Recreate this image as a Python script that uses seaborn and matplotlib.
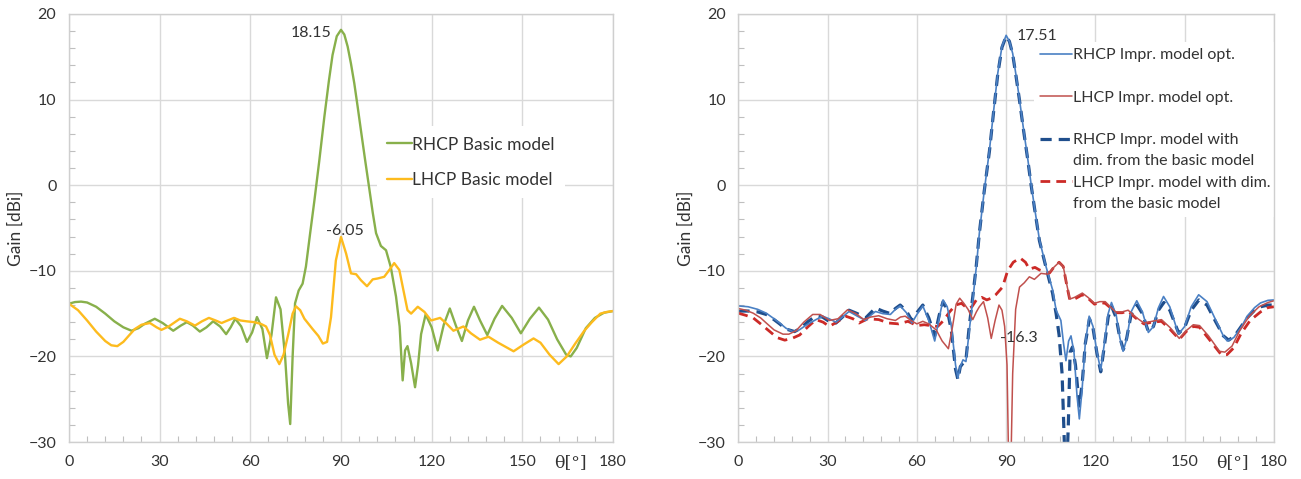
import matplotlib
matplotlib.use('Agg')
import matplotlib.pyplot as plt
from matplotlib.ticker import MultipleLocator
from matplotlib.lines import Line2D
import seaborn as sns

sns.set_theme(style='white')
plt.rcParams['font.family'] = ['Lato', 'DejaVu Sans']

# ---- left panel: basic model ----
rhcp_basic_theta = [0, 2, 4, 6, 9, 12, 15, 18, 20.7, 23, 25, 28.4, 31, 34.5, 37, 39, 41, 43.3, 45.5, 47.7,
                    50, 52, 53.5, 55, 57, 58.9, 60.6, 62.2, 64, 65.5, 67, 68.5, 70, 71.5, 72.5, 73.2, 74.0,
                    74.8, 76, 77.3, 78.4, 79.8, 81.2, 82.8, 84.5, 86, 87.2, 88.6, 90, 91.1, 92.2, 93.3, 94.4,
                    95.5, 96.6, 98, 99.4, 100.5, 101.6, 103.2, 104.9, 106.5, 108.2, 109.4, 110.4, 111.2, 112,
                    113.2, 114.5, 115.5, 116.5, 118, 120, 122, 124, 126, 128, 130, 132, 134, 136, 138.4, 140.8,
                    143.3, 146.5, 149.5, 152.5, 155.5, 158.5, 161.5, 164.5, 166, 168, 171, 174, 177, 180]
rhcp_basic_gain = [-13.84, -13.65, -13.6, -13.7, -14.2, -15.0, -15.9, -16.6, -17.0, -16.7, -16.2, -15.6, -16.1,
                   -17.0, -16.4, -16.0, -16.4, -17.1, -16.6, -15.9, -16.5, -17.4, -16.6, -15.6, -16.5, -18.3,
                   -17.2, -15.4, -16.8, -20.2, -17.5, -13.1, -14.5, -20.0, -25.5, -27.9, -20.0, -13.8, -12.3,
                   -11.5, -9.5, -5.6, -1.8, 2.8, 8.0, 12.2, 15.2, 17.4, 18.15, 17.6, 16.2, 14.2, 11.9, 9.2, 6.4,
                   2.9, -0.5, -3.2, -5.6, -7.1, -7.6, -9.6, -13.0, -16.5, -22.8, -19.3, -18.8, -20.8, -23.6,
                   -21.0, -17.4, -15.1, -16.6, -19.3, -16.3, -14.4, -16.4, -18.2, -15.8, -14.2, -15.8, -17.5,
                   -15.6, -14.1, -15.5, -17.3, -15.6, -14.3, -15.7, -18.0, -19.8, -20.0, -19.0, -16.7, -15.5,
                   -14.9, -14.7]

lhcp_basic_theta = [0, 3, 6, 9, 12, 14, 16, 18, 20, 21.8, 24, 26.8, 29, 30.6, 33, 36.7, 39, 41.7, 44, 46.3,
                    48.5, 50.5, 52.5, 54.6, 56.7, 58.8, 61.3, 63.5, 65.2, 66.5, 68, 69.6, 71, 72.5, 74, 75.1,
                    76.5, 77.9, 80.6, 82.5, 84, 85.4, 86.7, 88.3, 90, 91.7, 93.3, 95, 96.6, 98.6, 100.5, 102.1,
                    104.3, 106, 107.6, 109.3, 110.5, 112, 113.2, 115.4, 117.6, 119.8, 122.8, 125, 127.2, 130.5,
                    133, 136, 138.8, 142, 147.1, 150.5, 153.7, 156, 159, 162, 164.7, 167.5, 170.5, 173, 175.8,
                    178, 180]
lhcp_basic_gain = [-13.84, -14.6, -15.8, -17.1, -18.2, -18.7, -18.8, -18.3, -17.5, -16.8, -16.3, -16.1, -16.6,
                   -16.9, -16.5, -15.6, -15.9, -16.4, -15.9, -15.5, -15.8, -16.1, -15.8, -15.5, -15.8, -15.9,
                   -16.0, -16.2, -16.5, -17.5, -19.8, -20.9, -19.8, -17.5, -15.0, -14.15, -14.6, -15.6, -16.8,
                   -17.6, -18.5, -18.3, -15.4, -8.8, -6.05, -8.0, -10.3, -10.4, -11.1, -11.8, -11.0, -10.9,
                   -10.7, -9.9, -9.1, -9.9, -12.0, -14.6, -15.0, -14.2, -14.8, -15.8, -15.5, -16.2, -17.0,
                   -16.5, -17.3, -18.05, -17.7, -18.4, -19.4, -18.6, -17.9, -18.4, -19.8, -20.9, -20.0, -18.5,
                   -17.0, -16.0, -15.0, -14.8, -14.7]

# ---- right panel: improved model ----
rhcp_opt_theta = [0, 3.3, 6.5, 9.4, 12, 13.9, 16, 18.3, 20.5, 23, 26.1, 28.3, 30.5, 32.8, 35, 37.2, 40, 42.8,
                  44.5, 46.1, 48.5, 51.1, 52.8, 54.4, 56.5, 58.3, 60.2, 62, 64, 66, 67.5, 68.8, 70.2, 71.6, 73,
                  73.8, 74.6, 75.5, 76.5, 77.6, 78.8, 80, 81, 82.6, 84.4, 85.8, 87.2, 88.6, 90, 91.1, 92.2, 93.3,
                  94.5, 95.9, 97.3, 98.4, 99.5, 101.2, 103.4, 105.6, 106.8, 107.6, 108.4, 109.3, 110.1, 111,
                  111.8, 112.8, 113.8, 114.6, 115.5, 116.6, 117.9, 119.2, 120.5, 121.8, 123, 124.3, 125.4, 127,
                  128.2, 129.3, 130.5, 132, 133.9, 135.8, 137.8, 139.5, 141.2, 142.9, 145, 147.9, 150, 152.2,
                  154.7, 157.5, 160.5, 163, 164.3, 166.5, 169, 171, 173.5, 175.5, 178, 180]
rhcp_opt_gain = [-14.1, -14.2, -14.5, -14.95, -15.6, -16.1, -16.7, -17.1, -16.9, -16.3, -15.7, -15.3, -15.6,
                 -16.0, -15.4, -14.75, -15.3, -15.8, -15.2, -14.75, -15.0, -15.1, -14.5, -14.1, -14.9, -16.1,
                 -15.0, -14.1, -15.8, -18.2, -15.5, -13.4, -14.2, -16.5, -21.0, -22.5, -21.2, -20.4, -20.6,
                 -17.0, -13.4, -9.5, -5.6, -0.8, 4.1, 8.7, 13.1, 16.2, 17.51, 16.8, 15.4, 12.9, 10.0, 6.4, 3.0,
                 0.1, -2.5, -6.4, -9.5, -12.2, -14.6, -15.2, -15.8, -18.5, -20.5, -18.2, -17.6, -19.5, -24.5,
                 -27.3, -24.0, -18.5, -15.3, -16.5, -19.5, -21.6, -18.5, -15.0, -13.7, -15.2, -17.8, -19.4,
                 -18.0, -14.8, -13.5, -14.8, -17.2, -16.5, -14.3, -13.0, -14.2, -17.4, -16.5, -14.2, -12.8,
                 -13.6, -15.8, -17.6, -18.2, -17.8, -16.6, -15.3, -14.3, -13.75, -13.45, -13.4]

lhcp_opt_theta = [0, 2.5, 5, 7.5, 9.4, 12, 15, 17, 19.4, 22, 25, 27.5, 30.6, 33.5, 36.7, 39.5, 42.2, 44.5, 47.2,
                  50, 52.8, 54.5, 56.1, 58, 60, 62, 64, 66.5, 68.5, 70.6, 72, 73.2, 74.4, 75.8, 77.2, 78.8, 80,
                  81, 82.4, 83.8, 85, 86.3, 87.6, 88.6, 89.5, 90.3, 91.2, 92.2, 93.2, 94.5, 96.1, 97.8, 99.5,
                  101.7, 104, 106, 107.8, 109.2, 110.5, 111.4, 113, 115.6, 117.5, 119.7, 121.5, 123.3, 125,
                  126.8, 129, 131, 133.5, 136.3, 139, 142.2, 145, 148.2, 150.5, 152.9, 155, 158, 161.7, 163.5,
                  165.9, 168.5, 171.7, 175, 178, 180]
lhcp_opt_gain = [-14.4, -14.6, -14.95, -15.5, -16.1, -16.9, -17.4, -17.4, -17.0, -16.0, -15.1, -15.1, -15.8,
                 -15.6, -14.55, -15.0, -15.7, -15.4, -15.25, -15.6, -15.8, -15.4, -15.3, -15.8, -16.2, -15.9,
                 -16.2, -16.9, -18.2, -19.1, -16.5, -13.9, -13.2, -13.8, -14.5, -15.7, -14.8, -14.2, -13.6,
                 -15.5, -17.9, -15.8, -14.0, -14.6, -16.5, -21.0, -40.0, -22.0, -14.5, -11.9, -11.4, -10.7,
                 -11.0, -10.3, -10.4, -9.6, -9.0, -9.5, -11.8, -13.3, -13.1, -12.6, -13.1, -13.8, -13.6, -13.6,
                 -14.2, -14.8, -14.8, -14.6, -15.4, -16.1, -15.9, -15.7, -16.6, -17.9, -17.0, -16.3, -16.4,
                 -17.6, -19.4, -19.5, -18.8, -17.0, -15.3, -14.2, -13.7, -13.5]

rhcp_dim_theta = [0, 3.3, 6.5, 9.4, 12, 13.9, 16, 18.9, 21, 23.5, 26, 28.3, 30.5, 32.8, 35, 37.2, 40, 42.8,
                  44.5, 46.1, 48.5, 51.1, 52.8, 54.4, 56.5, 58.3, 60.2, 62, 64, 66, 67.5, 68.8, 70.2, 71.6, 73,
                  73.8, 74.6, 75.5, 76.5, 77.6, 78.8, 80, 81, 82.6, 84.4, 85.8, 87.2, 88.6, 90, 91.1, 92.2, 93.3,
                  94.5, 95.9, 97.3, 98.4, 99.5, 101.2, 103.4, 105.6, 106.8, 107.8, 108.8, 109.6, 110.2, 110.9,
                  111.5, 112.3, 113.3, 114.6, 115.6, 116.6, 118, 119.2, 120.5, 121.8, 123, 124.3, 125.5, 127,
                  128.2, 129.4, 130.5, 132, 134, 135.8, 137.8, 139.5, 141.2, 143, 145, 148, 150, 152.2, 154.8,
                  157.5, 160.5, 163, 164.8, 166.8, 169, 171, 173.5, 175.5, 178, 180]
rhcp_dim_gain = [-14.7, -14.7, -14.8, -15.1, -15.7, -16.2, -16.8, -17.1, -16.7, -15.9, -15.3, -15.4, -15.9,
                 -16.1, -15.4, -14.6, -15.0, -15.5, -14.9, -14.35, -14.7, -15.0, -14.4, -14.0, -14.7, -15.8,
                 -14.8, -14.0, -15.5, -17.6, -15.2, -13.6, -14.5, -17.0, -21.5, -22.7, -21.2, -20.8, -20.4,
                 -16.5, -13.0, -9.3, -5.6, -0.8, 4.0, 8.6, 13.0, 16.1, 17.4, 16.8, 15.3, 12.8, 9.9, 6.3, 2.9,
                 0.0, -2.6, -6.5, -9.6, -12.6, -15.0, -17.5, -22.0, -30.5, -35.0, -28.0, -19.5, -18.9, -21.0,
                 -25.8, -23.0, -18.5, -15.6, -16.7, -19.6, -21.8, -18.8, -15.4, -14.2, -15.5, -17.8, -19.2,
                 -17.9, -15.1, -14.0, -15.0, -17.1, -16.5, -14.6, -13.7, -14.6, -17.3, -16.6, -14.6, -13.4,
                 -14.0, -16.0, -17.6, -18.1, -17.6, -16.5, -15.5, -14.6, -14.2, -14.0, -14.0]

lhcp_dim_theta = [0, 2.5, 5, 7.5, 10.6, 13, 15.6, 18, 20.6, 23.5, 26.1, 28.5, 30.6, 33.5, 36.1, 38.5, 40.6,
                  43.5, 47.2, 50.5, 53.9, 57, 60, 62.5, 64.7, 67, 69, 71, 73, 75, 77, 78.5, 80, 81.8, 83.5, 85,
                  86.5, 88.8, 90.5, 92.4, 94.7, 96.5, 97.8, 99.7, 101.2, 103, 104.6, 106, 107.8, 109.2, 110.5,
                  111.4, 113, 115.6, 117.5, 119.7, 121.5, 123.3, 125, 126.8, 129, 131, 133.5, 136.3, 139, 142.2,
                  145, 148.2, 150.5, 152.9, 155, 158, 162.3, 164.2, 166.5, 169, 172, 175.5, 178, 180]
lhcp_dim_gain = [-14.95, -15.2, -15.5, -16.2, -17.1, -17.8, -18.1, -17.9, -17.5, -16.5, -15.7, -16.0, -16.5,
                 -15.9, -15.3, -15.6, -16.1, -15.6, -15.7, -16.1, -16.2, -15.9, -16.4, -16.3, -16.4, -16.5,
                 -15.8, -14.8, -14.0, -13.8, -14.4, -14.2, -13.4, -13.1, -13.4, -13.2, -12.8, -11.9, -10.0,
                 -9.0, -8.5, -9.0, -9.8, -9.6, -9.9, -10.1, -10.25, -9.6, -9.0, -9.5, -11.9, -13.4, -13.3,
                 -12.8, -13.2, -13.9, -13.7, -13.8, -14.3, -14.9, -14.9, -14.7, -15.5, -16.2, -16.0, -15.9,
                 -16.8, -18.0, -17.1, -16.5, -16.6, -17.9, -19.8, -19.8, -19.0, -17.3, -15.8, -14.8, -14.3,
                 -14.2]

text_col = '#333333'
grid_col = '#d9d9d9'


def style_axis(ax):
    ax.set_xlim(0, 180)
    ax.set_ylim(-30, 20)
    ax.xaxis.set_major_locator(MultipleLocator(30))
    ax.xaxis.set_minor_locator(MultipleLocator(6))
    ax.yaxis.set_major_locator(MultipleLocator(10))
    ax.yaxis.set_minor_locator(MultipleLocator(2))
    ax.grid(True, which='major', color=grid_col, lw=1)
    ax.grid(False, which='minor')
    ax.tick_params(which='major', length=0, labelsize=11.5, labelcolor=text_col, pad=9)
    ax.tick_params(which='minor', direction='in', length=4, width=0.8, color='#bfbfbf',
                   left=True, bottom=True)
    for s in ax.spines.values():
        s.set_color('#cfcfcf')
        s.set_linewidth(1)
    ax.set_xlabel('')
    ax.set_ylabel('Gain [dBi]', fontsize=12.5, color=text_col, labelpad=3)
    ax.annotate('θ[°]', xy=(166, 0), xycoords=('data', 'axes fraction'), xytext=(0, -9),
                textcoords='offset points', ha='center', va='top', fontsize=12.5, color=text_col,
                family=['DejaVu Serif'])


fig = plt.figure(figsize=(13.01, 4.79), dpi=100)
ax1 = fig.add_axes([0.0530, 0.0772, 0.4182, 0.8936])
ax2 = fig.add_axes([0.5675, 0.0772, 0.4117, 0.8936])

# left
sns.lineplot(x=rhcp_basic_theta, y=rhcp_basic_gain, ax=ax1, color='#88b04b', lw=1.7,
             estimator=None, label='RHCP Basic model', solid_joinstyle='round')
sns.lineplot(x=lhcp_basic_theta, y=lhcp_basic_gain, ax=ax1, color='#fdbb1e', lw=1.7,
             estimator=None, label='LHCP Basic model', solid_joinstyle='round')
style_axis(ax1)
ax1.text(87, 17.8, '18.15', ha='right', va='center', fontsize=11.5, color=text_col)
ax1.text(91.2, -5.3, '-6.05', ha='center', va='center', fontsize=11.5, color=text_col)
h1 = ax1.get_lines()[:2]
leg1 = ax1.legend(h1, ['RHCP Basic model', 'LHCP Basic model'], loc='upper left',
                  bbox_to_anchor=(0.566, 0.738), borderaxespad=0, borderpad=0.6, frameon=True,
                  facecolor='white', edgecolor='none', framealpha=1, fancybox=False,
                  handlelength=1.4, handletextpad=0.05, labelspacing=1.1, fontsize=12.5)
leg1.set_zorder(1.5)
for t in leg1.get_texts():
    t.set_color(text_col)

# right
sns.lineplot(x=rhcp_dim_theta, y=rhcp_dim_gain, ax=ax2, color='#1f4e8c', lw=2.3,
             linestyle=(0, (3.5, 2.2)), estimator=None, label='RHCP dim')
sns.lineplot(x=lhcp_dim_theta, y=lhcp_dim_gain, ax=ax2, color='#cc2a27', lw=2.0,
             linestyle=(0, (3.5, 2.2)), estimator=None, label='LHCP dim')
sns.lineplot(x=rhcp_opt_theta, y=rhcp_opt_gain, ax=ax2, color='#4a80c4', lw=1.2,
             estimator=None, label='RHCP opt', solid_joinstyle='round')
sns.lineplot(x=lhcp_opt_theta, y=lhcp_opt_gain, ax=ax2, color='#c0504d', lw=1.1,
             estimator=None, label='LHCP opt', solid_joinstyle='round')
style_axis(ax2)
ax2.text(93.6, 17.4, '17.51', ha='left', va='center', fontsize=11.5, color=text_col)
ax2.text(94.3, -17.85, '-16.3', ha='center', va='center', fontsize=11.5, color=text_col)

ln = ax2.get_lines()
blank = Line2D([], [], color='none')
handles = [ln[2], blank, ln[3], blank, ln[0], blank, ln[1], blank]
labels = ['RHCP Impr. model opt.', ' ', 'LHCP Impr. model opt.', ' ',
          'RHCP Impr. model with', 'dim. from the basic model',
          'LHCP Impr. model with dim.', 'from the basic model']
leg2 = ax2.legend(handles, labels, loc='upper left', bbox_to_anchor=(0.552, 0.935),
                  borderaxespad=0, borderpad=0.4, frameon=True, facecolor='white',
                  edgecolor='none', framealpha=1, fancybox=False, handlelength=2.0,
                  handletextpad=0.05, labelspacing=0.44, fontsize=11.5)
leg2.set_zorder(1.5)
for t in leg2.get_texts():
    t.set_color(text_col)

fig.savefig('out.png', dpi=100)
